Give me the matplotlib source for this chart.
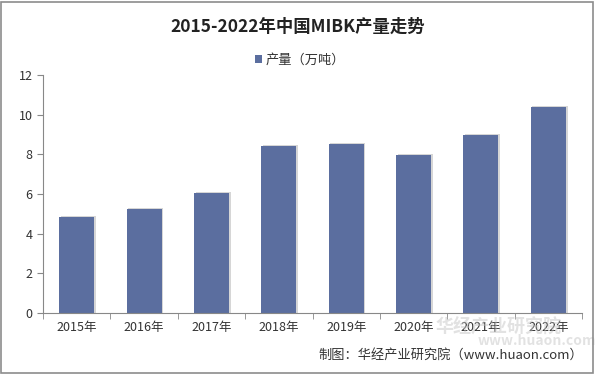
import matplotlib
matplotlib.use("Agg")
import matplotlib.pyplot as plt
from matplotlib.patches import Rectangle
import numpy as np

plt.rcParams['font.family'] = ['Noto Sans CJK SC', 'DejaVu Sans']

years = ["2015年", "2016年", "2017年", "2018年", "2019年", "2020年", "2021年", "2022年"]
values = [4.85, 5.22, 6.05, 8.42, 8.52, 7.97, 8.98, 10.39]
title = "2015-2022年中国MIBK产量走势"
legend_label = "产量（万吨）"
source = "制图：华经产业研究院（www.huaon.com）"

W, H = 595, 374
fig = plt.figure(figsize=(W/100, H/100), dpi=100)
fig.patch.set_facecolor("white")
fig.add_artist(Rectangle((1/W, 1/H), 1-3/W, 1-3/H, transform=fig.transFigure,
                         fill=False, edgecolor="#8c8c8c", linewidth=1.2))

ax = fig.add_axes([43/W, 1-313/H, (582-43)/W, (313-75)/H])
x = np.arange(len(years))
color = "#5b6e9f"
# subtle shadow
ax.bar(x + 0.025, np.array(values) + 0.05, width=0.52, color="#d6d6d6", zorder=1)
ax.bar(x, values, width=0.52, color=color, zorder=2, label=legend_label)

ax.set_xlim(-0.5, len(years) - 0.5)
ax.set_ylim(0, 12)
ax.set_yticks(range(0, 13, 2))
ax.set_xticks(x)
ax.set_xticklabels(years, fontsize=9, color="#333333")
ax.set_xticks(np.arange(-0.5, len(years), 1), minor=True)
ax.tick_params(axis='x', which='major', length=0, pad=6)
ax.tick_params(axis='x', which='minor', length=4, color="#888888", direction='out')
ax.tick_params(axis='y', labelsize=9, colors="#333333", length=4, direction='out')
ax.tick_params(axis='y', color="#888888")
for s in ["top", "right"]:
    ax.spines[s].set_visible(False)
ax.spines["left"].set_color("#888888")
ax.spines["bottom"].set_color("#888888")

fig.text(0.5, 1-27/H, title, ha="center", va="center", fontsize=12.5,
         fontweight="bold", color="#222222")
fig.legend(loc="center", bbox_to_anchor=(300/W, 1-60/H), frameon=False,
           fontsize=9.5, handlelength=0.5, handleheight=0.5, handletextpad=0.3,
           labelcolor="#333333")

fig.text(435/W, 1-327/H, "华经产业研究院", fontsize=13, color="#c0c0c0",
         alpha=0.45, ha="left", va="center", fontweight="bold", zorder=0)
fig.text(478/W, 1-341/H, "www.huaon.com", fontsize=10, color="#c0c0c0",
         alpha=0.45, ha="left", va="center", fontweight="bold", zorder=0)
fig.text(583/W, 1-355/H, source, ha="right", va="center", fontsize=9.5,
         color="#333333")

fig.savefig("out.png", dpi=100)
